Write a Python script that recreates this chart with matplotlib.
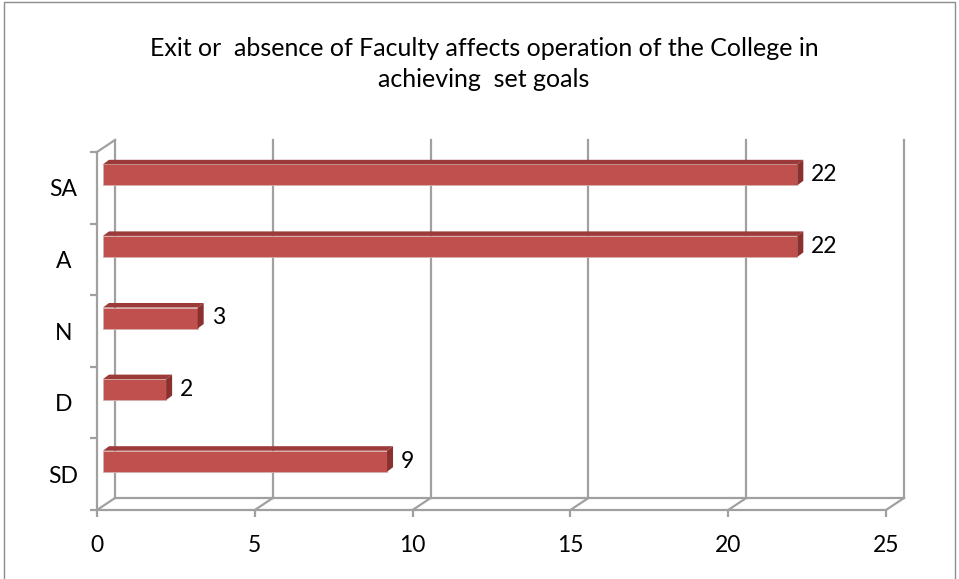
import numpy as np
import matplotlib
matplotlib.use("Agg")
from matplotlib import pyplot as plt
from matplotlib.patches import Polygon, Rectangle

# data
categories = ["SD", "D", "N", "A", "SA"]
values = [9, 2, 3, 22, 22]
xticks = [0, 5, 10, 15, 20, 25]
title = "Exit or  absence of Faculty affects operation of the College in\nachieving  set goals"

plt.rcParams['font.family'] = ['Lato', 'DejaVu Sans']

W, H = 959, 579
fig = plt.figure(figsize=(W / 100, H / 100), dpi=100)

# front plane of the pseudo 3D box (pixels)
left_px, right_px, top_px, bot_px = 97, 886, 152, 510
ax = fig.add_axes([left_px / W, (H - bot_px) / H, (right_px - left_px) / W, (bot_px - top_px) / H])
ax.set_xlim(0, 25)
ax.set_ylim(-0.5, 4.5)
for s in ax.spines.values():
    s.set_visible(False)

sx = (right_px - left_px) / 25.0   # px per x unit
sy = (bot_px - top_px) / 5.0       # px per category
grey = '#a0a0a0'
lw = 1.6
fs = 16.5

# back wall offset
bdx, bdy = 18 / sx, 12 / sy
y0, y1 = -0.5, 4.5
for t in xticks:
    ax.plot([t + bdx, t + bdx], [y0 + bdy, y1 + bdy], color=grey, lw=lw, clip_on=False, zorder=1)
    ax.plot([t, t + bdx], [y0, y0 + bdy], color=grey, lw=lw, clip_on=False, zorder=1)
# floor back edge
ax.plot([0 + bdx, 25 + bdx], [y0 + bdy, y0 + bdy], color=grey, lw=lw, clip_on=False, zorder=1)
# left wall top edge
ax.plot([0, bdx], [y1, y1 + bdy], color=grey, lw=lw, clip_on=False, zorder=1)
# front axes lines
ax.plot([0, 0], [y0, y1], color=grey, lw=lw, clip_on=False, zorder=1)
ax.plot([0, 25], [y0, y0], color=grey, lw=lw, clip_on=False, zorder=1)

# bars
ypos = np.arange(len(categories))
x0 = 6 / sx
yoff = 13 / sy
bh = 21 / sy
ddx, ddy = 6 / sx, 4.5 / sy
front_c, top_c, side_c = '#c0504d', '#9b3a38', '#8a302e'
ax.barh(ypos + yoff, values, left=x0, height=bh, color=front_c,
        edgecolor='#d6b0ae', linewidth=0.6, zorder=3)
for y, v in zip(ypos, values):
    yb = y + yoff - bh / 2
    yt = y + yoff + bh / 2
    xe = x0 + v
    ax.add_patch(Polygon([(x0, yt), (xe, yt), (xe + ddx, yt + ddy), (x0 + ddx, yt + ddy)],
                         closed=True, facecolor=top_c, edgecolor='none', zorder=3, clip_on=False))
    ax.add_patch(Polygon([(xe, yb), (xe, yt), (xe + ddx, yt + ddy), (xe + ddx, yb + ddy)],
                         closed=True, facecolor=side_c, edgecolor='none', zorder=3, clip_on=False))
    ax.text(xe + ddx + 8 / sx, y + yoff, str(v), va='center', ha='left', fontsize=fs, zorder=4)

# ticks
ax.set_xticks(xticks)
ax.set_xticklabels([str(t) for t in xticks], fontsize=fs)
ax.tick_params(axis='x', direction='out', length=5, width=lw, color=grey, pad=13)
ax.set_yticks(ypos)
ax.set_yticklabels(categories, fontsize=fs)
for lab in ax.get_yticklabels():
    lab.set_horizontalalignment('center')
ax.set_yticks(np.arange(-0.5, 5, 1), minor=True)
ax.tick_params(axis='y', which='major', length=0, pad=24)
ax.tick_params(axis='y', which='minor', direction='out', length=5, width=lw, color=grey)

# title
fig.text(484 / W, 1 - 64 / H, title, ha='center', va='center', fontsize=18, linespacing=1.4)

# chart border
fig.patches.append(Rectangle((4 / W, -0.05), 951 / W, 1.05 - 2 / H, transform=fig.transFigure,
                             fill=False, edgecolor='#8c8c8c', lw=1.0))

fig.savefig('out.png', dpi=100, facecolor='white')
